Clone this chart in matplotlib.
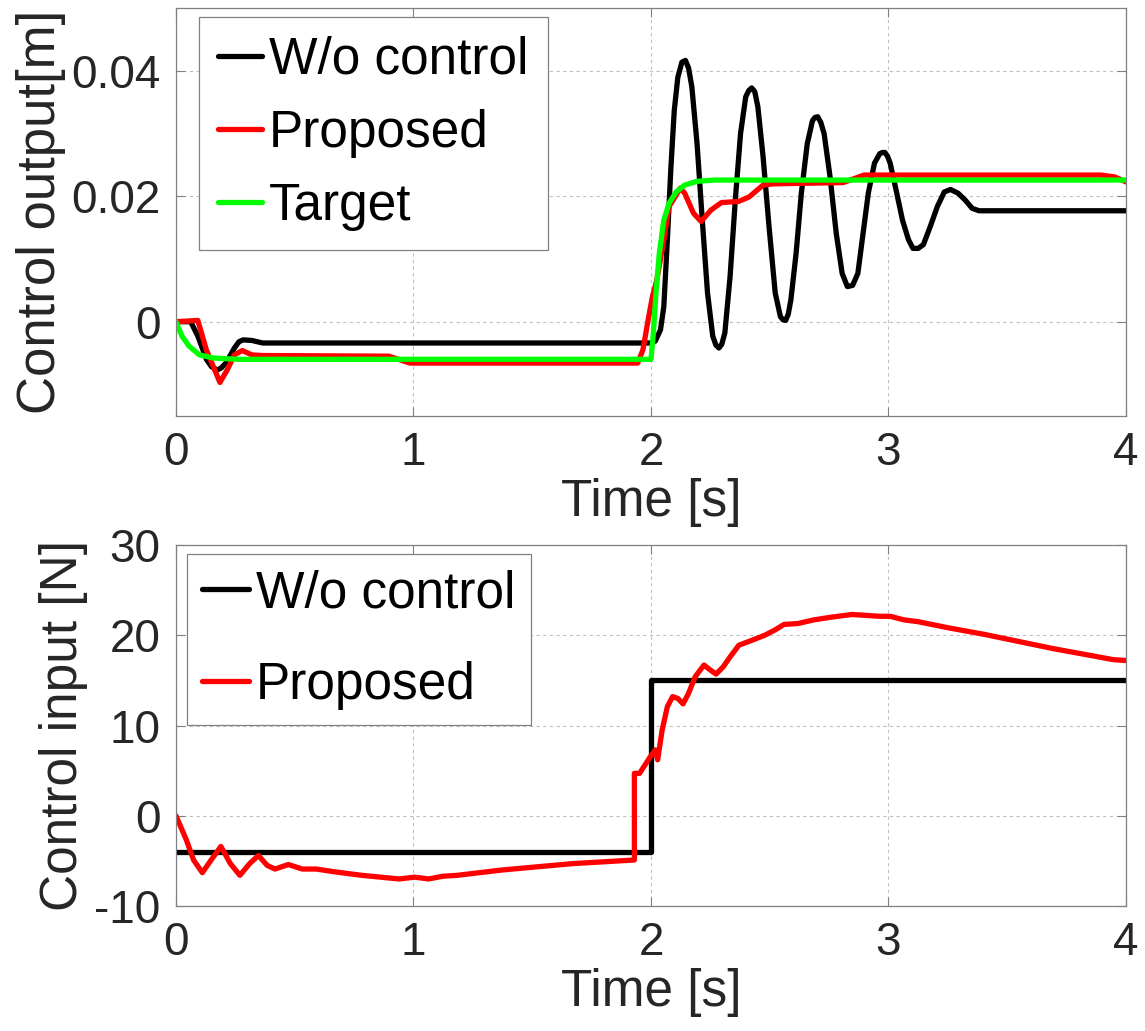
import numpy as np
import matplotlib.pyplot as plt

# ---- top panel: control output [m] ----
t_wo_out = [0, 0.062, 0.092, 0.128, 0.150, 0.173, 0.19, 0.21, 0.246, 0.265, 0.283, 0.32, 0.365, 2.0,
            2.018, 2.040, 2.054, 2.069, 2.084, 2.098, 2.113, 2.130, 2.145, 2.158,
            2.172, 2.194, 2.216, 2.238, 2.260, 2.273, 2.286, 2.298, 2.311, 2.333, 2.355, 2.377,
            2.399, 2.412, 2.424, 2.437, 2.450, 2.472, 2.497, 2.523, 2.545, 2.556, 2.567, 2.578,
            2.589, 2.611, 2.633, 2.658, 2.680, 2.691, 2.702, 2.715, 2.729, 2.754, 2.780, 2.805,
            2.827, 2.849, 2.871, 2.893, 2.915, 2.941, 2.963, 2.974, 2.985, 2.996, 3.007, 3.032,
            3.059, 3.084, 3.103, 3.125, 3.147, 3.176, 3.206, 3.235, 3.261, 3.293, 3.323, 3.352,
            3.381, 4.0]
y_wo_out = [0, 0, -0.0023, -0.0060, -0.0072, -0.0077, -0.0074, -0.0066, -0.0042, -0.0032, -0.0029, -0.0030, -0.0034, -0.0034,
            -0.0031, -0.0013, 0.0024, 0.0131, 0.0247, 0.0337, 0.0390, 0.0414, 0.0417, 0.0405,
            0.0375, 0.0284, 0.0162, 0.0046, -0.0023, -0.0037, -0.0042, -0.0036, -0.0018, 0.0072, 0.0194, 0.0300,
            0.0359, 0.0369, 0.0373, 0.0367, 0.0343, 0.0263, 0.0152, 0.0046, 0.0008, 0.0003, 0.0002, 0.0012,
            0.0035, 0.0109, 0.0205, 0.0284, 0.0321, 0.0326, 0.0327, 0.0318, 0.0300, 0.0231, 0.0141, 0.0077,
            0.0056, 0.0058, 0.0077, 0.0141, 0.0205, 0.0253, 0.0268, 0.0270, 0.0270, 0.0264, 0.0253, 0.0210,
            0.0162, 0.0131, 0.0117, 0.0117, 0.0123, 0.0152, 0.0184, 0.0207, 0.0211, 0.0205, 0.0194, 0.0181,
            0.0177, 0.0177]

t_prop_out = [0, 0.092, 0.128, 0.185, 0.217, 0.246, 0.279, 0.32, 0.365, 0.896, 0.985,
              1.944, 1.966, 1.988, 2.006, 2.025, 2.054, 2.076, 2.098, 2.123, 2.142,
              2.179, 2.211, 2.252, 2.296, 2.370, 2.413, 2.472, 2.516, 2.809, 2.897,
              3.894, 3.953, 4.0]
y_prop_out = [0, 0.0002, -0.0045, -0.0097, -0.0076, -0.0053, -0.0046, -0.0053, -0.0054, -0.0055, -0.0066,
              -0.0066, -0.0045, 0.0003, 0.0040, 0.0067, 0.0131, 0.0184, 0.0197, 0.0213, 0.0205,
              0.0173, 0.0160, 0.0178, 0.0190, 0.0192, 0.0199, 0.0218, 0.0220, 0.0222, 0.0234,
              0.0234, 0.0231, 0.0223]

t_target = [0, 0.025, 0.055, 0.099, 0.158, 0.261, 2.0, 2.010, 2.021, 2.035, 2.054,
            2.076, 2.106, 2.142, 2.194, 2.267, 4.0]
y_target = [0, -0.0023, -0.0039, -0.0053, -0.0058, -0.0060, -0.0060, -0.0018, 0.0046, 0.0109, 0.0162,
            0.0189, 0.0207, 0.0218, 0.0224, 0.0226, 0.0226]

# ---- bottom panel: control input [N] ----
t_wo_in = [0, 2.0, 2.0, 4.0]
u_wo_in = [-4.0, -4.0, 15.0, 15.0]

t_prop_in = [0, 0.044, 0.074, 0.111, 0.148, 0.189, 0.229, 0.269, 0.31, 0.347, 0.384,
             0.417, 0.473, 0.532, 0.591, 0.665, 0.783, 0.939, 1.005, 1.064, 1.123,
             1.183, 1.375, 1.670, 1.930, 1.930, 1.952, 1.996, 2.018, 2.028, 2.047,
             2.069, 2.091, 2.113, 2.135, 2.157, 2.186, 2.223, 2.252, 2.274, 2.304,
             2.333, 2.37, 2.421, 2.479, 2.523, 2.560, 2.619, 2.685, 2.758, 2.846,
             2.905, 2.963, 3.007, 3.066, 3.125, 3.257, 3.403, 3.55, 3.697, 3.843,
             3.946, 4.0]
u_prop_in = [0, -2.7, -4.9, -6.3, -4.9, -3.4, -5.3, -6.6, -5.3, -4.4, -5.5,
             -5.9, -5.4, -5.9, -5.9, -6.2, -6.6, -7.0, -6.8, -7.0, -6.7,
             -6.6, -6.0, -5.3, -4.9, 4.7, 4.7, 6.5, 7.3, 6.2, 9.5,
             12.1, 13.2, 13.0, 12.4, 13.5, 15.4, 16.7, 16.1, 15.7, 16.5,
             17.6, 18.9, 19.4, 20.0, 20.6, 21.2, 21.3, 21.7, 22.0, 22.3,
             22.2, 22.1, 22.1, 21.7, 21.5, 20.8, 20.1, 19.3, 18.5, 17.8,
             17.3, 17.2]

x_ticks = [0, 1, 2, 3, 4]
y_ticks_top = [0, 0.02, 0.04]
y_ticklabels_top = ['0', '0.02', '0.04']
y_ticks_bot = [-10, 0, 10, 20, 30]

plt.rcParams['font.family'] = ['Liberation Sans', 'DejaVu Sans']
plt.rcParams['axes.unicode_minus'] = False
txt = '#262626'
edge = '#808080'
lw = 3.8

fig = plt.figure(figsize=(11.45, 10.31), dpi=100)
ax1 = fig.add_axes([0.1537, 0.5968, 0.8297, 0.3951])
ax2 = fig.add_axes([0.1537, 0.1212, 0.8297, 0.3502])


def style(ax):
    ax.set_xlim(0, 4)
    ax.set_xticks(x_ticks)
    ax.grid(True, color='#c0c0c0', linestyle=(0, (3, 3)), linewidth=0.8)
    ax.set_axisbelow(True)
    ax.tick_params(direction='in', length=6.5, width=0.8, color=edge,
                   top=True, right=True, labelsize=33, labelcolor=txt, pad=11)
    for s in ax.spines.values():
        s.set_color(edge)
        s.set_linewidth(0.9)
    ax.set_xlabel('Time [s]', fontsize=37, color=txt, labelpad=2)


def line(ax, x, y, c, lab):
    ax.plot(x, y, color=c, lw=lw, label=lab, solid_joinstyle='round', solid_capstyle='round')


line(ax1, t_wo_out, y_wo_out, 'black', 'W/o control')
line(ax1, t_prop_out, y_prop_out, '#ff0000', 'Proposed')
line(ax1, t_target, y_target, '#00ff00', 'Target')
style(ax1)
ax1.set_ylim(-0.015, 0.05)
ax1.set_yticks(y_ticks_top)
ax1.set_yticklabels(y_ticklabels_top)
ax1.set_ylabel('Control output[m]', fontsize=38, color=txt)
ax1.yaxis.set_label_coords(-0.116, 0.5)
leg1 = ax1.legend(loc='upper left', bbox_to_anchor=(0.0239, 0.979), borderaxespad=0,
                  fontsize=37, handlelength=0.86, handletextpad=0.14, borderpad=0.37,
                  labelspacing=0.47, fancybox=False, framealpha=1, edgecolor=edge)
leg1.get_frame().set_linewidth(0.9)

line(ax2, t_wo_in, u_wo_in, 'black', 'W/o control')
line(ax2, t_prop_in, u_prop_in, '#ff0000', 'Proposed')
style(ax2)
ax2.set_ylim(-10, 30)
ax2.set_yticks(y_ticks_bot)
ax2.set_ylabel('Control input [N]', fontsize=37, color=txt)
ax2.yaxis.set_label_coords(-0.0925, 0.5)
leg2 = ax2.legend(loc='upper left', bbox_to_anchor=(0.0116, 0.975), borderaxespad=0,
                  fontsize=37, handlelength=0.9, handletextpad=0.14, borderpad=0.3,
                  labelspacing=0.82, fancybox=False, framealpha=1, edgecolor=edge)
leg2.get_frame().set_linewidth(0.9)

fig.savefig('out.png', dpi=100)
